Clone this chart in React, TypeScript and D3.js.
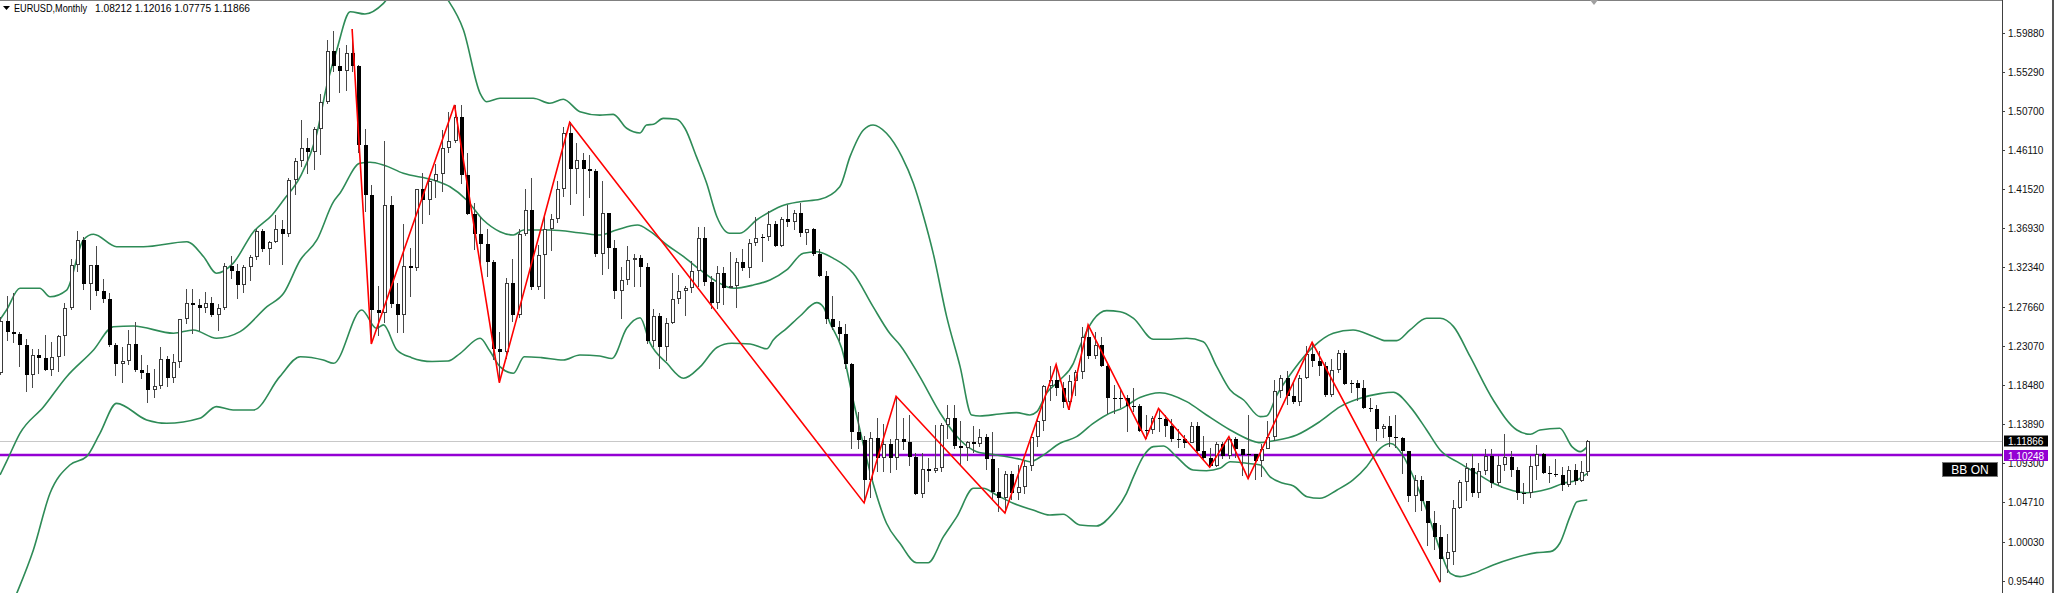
import React, { useEffect } from "react";
import * as d3 from "d3";

const W = 2055;
const H = 593;

// first visible month: 2003-12, last: 2024-08
const FIRST_YEAR = 2003;
const FIRST_MONTH = 12;

const OPEN = [
  1.1990,
  1.2597, 1.2470, 1.2450, 1.2316, 1.1970, 1.2200, 1.2170, 1.2025, 1.2175, 1.2420, 1.2755, 1.3265,
  1.3555, 1.3035, 1.3255, 1.2960, 1.2865, 1.2320, 1.2095, 1.2125, 1.2335, 1.2025, 1.1990, 1.1790,
  1.1840, 1.2155, 1.1925, 1.2115, 1.2620, 1.2810, 1.2795, 1.2760, 1.2810, 1.2675, 1.2760, 1.3250,
  1.3195, 1.3020, 1.3235, 1.3355, 1.3655, 1.3445, 1.3535, 1.3690, 1.3625, 1.4265, 1.4480, 1.4635,
  1.4590, 1.4865, 1.5185, 1.5785, 1.5600, 1.5545, 1.5755, 1.5600, 1.4675, 1.4085, 1.2725, 1.2695,
  1.3970, 1.2800, 1.2670, 1.3245, 1.3230, 1.4150, 1.4030, 1.4255, 1.4335, 1.4640, 1.4720, 1.5000,
  1.4320, 1.3865, 1.3630, 1.3510, 1.3295, 1.2270, 1.2235, 1.3045, 1.2675, 1.3630, 1.3905, 1.3000,
  1.3380, 1.3690, 1.3800, 1.4160, 1.4810, 1.4395, 1.4500, 1.4395, 1.4370, 1.3390, 1.3870, 1.3460,
  1.2960, 1.3080, 1.3325, 1.3340, 1.3235, 1.2365, 1.2665, 1.2300, 1.2575, 1.2860, 1.2960, 1.2990,
  1.3190, 1.3580, 1.3055, 1.2815, 1.3170, 1.2995, 1.3010, 1.3300, 1.3220, 1.3525, 1.3580, 1.3590,
  1.3745, 1.3485, 1.3805, 1.3770, 1.3870, 1.3635, 1.3690, 1.3390, 1.3130, 1.2630, 1.2525, 1.2450,
  1.2100, 1.1290, 1.1195, 1.0730, 1.1220, 1.0990, 1.1150, 1.0985, 1.1210, 1.1175, 1.1005, 1.0565,
  1.0860, 1.0830, 1.0870, 1.1380, 1.1455, 1.1130, 1.1105, 1.1175, 1.1155, 1.1240, 1.0980, 1.0590,
  1.0520, 1.0800, 1.0575, 1.0650, 1.0895, 1.1240, 1.1425, 1.1840, 1.1905, 1.1815, 1.1645, 1.1900,
  1.2005, 1.2415, 1.2195, 1.2320, 1.2075, 1.1690, 1.1685, 1.1690, 1.1605, 1.1605, 1.1310, 1.1315,
  1.1465, 1.1445, 1.1370, 1.1215, 1.1215, 1.1170, 1.1370, 1.1075, 1.0985, 1.0900, 1.1150, 1.1015,
  1.1210, 1.1090, 1.1025, 1.1030, 1.0955, 1.1100, 1.1235, 1.1780, 1.1935, 1.1720, 1.1645, 1.1925,
  1.2215, 1.2135, 1.2075, 1.1730, 1.2020, 1.2225, 1.1860, 1.1870, 1.1810, 1.1580, 1.1560, 1.1335,
  1.1370, 1.1235, 1.1220, 1.1065, 1.0545, 1.0735, 1.0480, 1.0225, 1.0055, 0.9800, 0.9885, 1.0405,
  1.0705, 1.0865, 1.0575, 1.0840, 1.1015, 1.0690, 1.0910, 1.0995, 1.0845, 1.0575, 1.0575, 1.0890,
  1.1040, 1.0815, 1.0805, 1.0790, 1.0665, 1.0850, 1.0715, 1.08212,
];

const HIGH = [
  1.2647,
  1.2898, 1.2930, 1.2475, 1.2385, 1.2276, 1.2270, 1.2437, 1.2355, 1.2435, 1.2810, 1.3330, 1.3666,
  1.3590, 1.3257, 1.3485, 1.3095, 1.2935, 1.2340, 1.2300, 1.2500, 1.2585, 1.2200, 1.2085, 1.2040,
  1.2290, 1.2190, 1.2210, 1.2625, 1.2980, 1.2975, 1.2860, 1.2940, 1.2880, 1.2805, 1.3285, 1.3365,
  1.3270, 1.3260, 1.3375, 1.3680, 1.3685, 1.3545, 1.3850, 1.3790, 1.4280, 1.4525, 1.4965, 1.4755,
  1.4890, 1.5275, 1.5905, 1.6020, 1.5820, 1.5845, 1.6038, 1.5620, 1.4865, 1.4200, 1.3010, 1.4720,
  1.4075, 1.3045, 1.3740, 1.3465, 1.4155, 1.4340, 1.4305, 1.4445, 1.4845, 1.5060, 1.5145, 1.5140,
  1.4580, 1.3990, 1.3820, 1.3690, 1.3315, 1.2470, 1.3110, 1.3335, 1.3685, 1.4160, 1.4280, 1.3500,
  1.3860, 1.3860, 1.4250, 1.4880, 1.4940, 1.4700, 1.4580, 1.4550, 1.4385, 1.4250, 1.3875, 1.3550,
  1.3235, 1.3485, 1.3385, 1.3380, 1.3285, 1.2745, 1.2695, 1.2640, 1.3170, 1.3140, 1.3010, 1.3310,
  1.3710, 1.3710, 1.3135, 1.3245, 1.3240, 1.3415, 1.3345, 1.3450, 1.3570, 1.3830, 1.3620, 1.3895,
  1.3775, 1.3825, 1.3965, 1.3905, 1.3995, 1.3675, 1.3700, 1.3445, 1.3190, 1.2890, 1.2605, 1.2570,
  1.2110, 1.1535, 1.1245, 1.1290, 1.1465, 1.1385, 1.1215, 1.1715, 1.1460, 1.1495, 1.1050, 1.1045,
  1.0985, 1.1375, 1.1400, 1.1615, 1.1615, 1.1425, 1.1185, 1.1365, 1.1330, 1.1275, 1.1300, 1.0875,
  1.0830, 1.0830, 1.0905, 1.0950, 1.1270, 1.1445, 1.1850, 1.2070, 1.2090, 1.1880, 1.1960, 1.2025,
  1.2535, 1.2555, 1.2475, 1.2415, 1.2095, 1.1850, 1.1790, 1.1735, 1.1815, 1.1625, 1.1500, 1.1485,
  1.1570, 1.1490, 1.1450, 1.1325, 1.1265, 1.1410, 1.1410, 1.1250, 1.1110, 1.1180, 1.1175, 1.1240,
  1.1240, 1.1095, 1.1495, 1.1040, 1.1150, 1.1420, 1.1910, 1.1965, 1.2010, 1.1880, 1.1965, 1.2310,
  1.2350, 1.2245, 1.2115, 1.2150, 1.2265, 1.2255, 1.1910, 1.1910, 1.1910, 1.1690, 1.1615, 1.1385,
  1.1485, 1.1495, 1.1235, 1.1075, 1.0785, 1.0775, 1.0485, 1.0370, 1.0200, 1.0095, 1.0495, 1.0735,
  1.0930, 1.1035, 1.0930, 1.1095, 1.1090, 1.1010, 1.1275, 1.1065, 1.0880, 1.0695, 1.1015, 1.1140,
  1.1045, 1.0900, 1.0980, 1.0885, 1.0895, 1.0915, 1.0950, 1.12016,
];

const LOW = [
  1.1960,
  1.2362, 1.2343, 1.2056, 1.1760, 1.1812, 1.1975, 1.2010, 1.1950, 1.2005, 1.2190, 1.2725, 1.3178,
  1.2965, 1.2730, 1.2895, 1.2810, 1.2300, 1.1955, 1.1870, 1.2080, 1.2000, 1.1915, 1.1640, 1.1690,
  1.1800, 1.1825, 1.1875, 1.2050, 1.2565, 1.2450, 1.2480, 1.2695, 1.2645, 1.2480, 1.2725, 1.3100,
  1.2865, 1.2930, 1.3070, 1.3320, 1.3410, 1.3260, 1.3525, 1.3260, 1.3590, 1.4085, 1.4415, 1.4335,
  1.4380, 1.4555, 1.5155, 1.5530, 1.5285, 1.5305, 1.5530, 1.4580, 1.3880, 1.2330, 1.2425, 1.2580,
  1.2750, 1.2455, 1.2455, 1.2885, 1.3185, 1.3745, 1.3845, 1.4045, 1.4125, 1.4580, 1.4695, 1.4215,
  1.3850, 1.3435, 1.3265, 1.3115, 1.2140, 1.1875, 1.2150, 1.2590, 1.2640, 1.3600, 1.2970, 1.2970,
  1.2860, 1.3430, 1.3750, 1.4065, 1.3970, 1.4100, 1.3840, 1.4050, 1.3360, 1.3145, 1.3210, 1.2855,
  1.2625, 1.3030, 1.3000, 1.3000, 1.2335, 1.2290, 1.2040, 1.2130, 1.2560, 1.2800, 1.2660, 1.2925,
  1.3005, 1.3015, 1.2745, 1.2745, 1.2795, 1.2990, 1.2755, 1.3185, 1.3105, 1.3480, 1.3295, 1.3545,
  1.3475, 1.3475, 1.3705, 1.3675, 1.3585, 1.3500, 1.3365, 1.3115, 1.2570, 1.2500, 1.2360, 1.2035,
  1.1100, 1.1100, 1.0460, 1.0520, 1.0820, 1.0820, 1.0810, 1.0850, 1.1085, 1.0895, 1.0555, 1.0520,
  1.0710, 1.0810, 1.0820, 1.1215, 1.1095, 1.0910, 1.0950, 1.1045, 1.1120, 1.0850, 1.0505, 1.0350,
  1.0340, 1.0495, 1.0495, 1.0570, 1.0840, 1.1120, 1.1310, 1.1660, 1.1720, 1.1575, 1.1555, 1.1715,
  1.1915, 1.2155, 1.2155, 1.2055, 1.1510, 1.1510, 1.1575, 1.1300, 1.1525, 1.1300, 1.1215, 1.1270,
  1.1290, 1.1235, 1.1175, 1.1110, 1.1105, 1.1160, 1.1025, 1.0965, 1.0880, 1.0880, 1.0980, 1.0980,
  1.0990, 1.0775, 1.0745, 1.0725, 1.0765, 1.1090, 1.1185, 1.1695, 1.1610, 1.1620, 1.1600, 1.1920,
  1.2055, 1.1950, 1.1705, 1.1705, 1.1985, 1.1845, 1.1750, 1.1665, 1.1565, 1.1525, 1.1185, 1.1220,
  1.1120, 1.1105, 1.0805, 1.0470, 1.0350, 1.0360, 0.9950, 0.9900, 0.9525, 0.9630, 0.9730, 1.0390,
  1.0480, 1.0535, 1.0515, 1.0790, 1.0635, 1.0660, 1.0835, 1.0765, 1.0490, 1.0450, 1.0515, 1.0725,
  1.0795, 1.0695, 1.0765, 1.0600, 1.0650, 1.0670, 1.0710, 1.07775,
];

const CLOSE = [
  1.2597,
  1.2470, 1.2450, 1.2316, 1.1970, 1.2200, 1.2170, 1.2025, 1.2175, 1.2420, 1.2755, 1.3265, 1.3555,
  1.3035, 1.3255, 1.2960, 1.2865, 1.2320, 1.2095, 1.2125, 1.2335, 1.2025, 1.1990, 1.1790, 1.1840,
  1.2155, 1.1925, 1.2115, 1.2620, 1.2810, 1.2795, 1.2760, 1.2810, 1.2675, 1.2760, 1.3250, 1.3195,
  1.3020, 1.3235, 1.3355, 1.3655, 1.3445, 1.3535, 1.3690, 1.3625, 1.4265, 1.4480, 1.4635, 1.4590,
  1.4865, 1.5185, 1.5785, 1.5600, 1.5545, 1.5755, 1.5600, 1.4675, 1.4085, 1.2725, 1.2695, 1.3970,
  1.2800, 1.2670, 1.3245, 1.3230, 1.4150, 1.4030, 1.4255, 1.4335, 1.4640, 1.4720, 1.5000, 1.4320,
  1.3865, 1.3630, 1.3510, 1.3295, 1.2270, 1.2235, 1.3045, 1.2675, 1.3630, 1.3905, 1.3000, 1.3380,
  1.3690, 1.3800, 1.4160, 1.4810, 1.4395, 1.4500, 1.4395, 1.4370, 1.3390, 1.3870, 1.3460, 1.2960,
  1.3080, 1.3325, 1.3340, 1.3235, 1.2365, 1.2665, 1.2300, 1.2575, 1.2860, 1.2960, 1.2990, 1.3190,
  1.3580, 1.3055, 1.2815, 1.3170, 1.2995, 1.3010, 1.3300, 1.3220, 1.3525, 1.3580, 1.3590, 1.3745,
  1.3485, 1.3805, 1.3770, 1.3870, 1.3635, 1.3690, 1.3390, 1.3130, 1.2630, 1.2525, 1.2450, 1.2100,
  1.1290, 1.1195, 1.0730, 1.1220, 1.0990, 1.1150, 1.0985, 1.1210, 1.1175, 1.1005, 1.0565, 1.0860,
  1.0830, 1.0870, 1.1380, 1.1455, 1.1130, 1.1105, 1.1175, 1.1155, 1.1240, 1.0980, 1.0590, 1.0520,
  1.0800, 1.0575, 1.0650, 1.0895, 1.1240, 1.1425, 1.1840, 1.1905, 1.1815, 1.1645, 1.1900, 1.2005,
  1.2415, 1.2195, 1.2320, 1.2075, 1.1690, 1.1685, 1.1690, 1.1605, 1.1605, 1.1310, 1.1315, 1.1465,
  1.1445, 1.1370, 1.1215, 1.1215, 1.1170, 1.1370, 1.1075, 1.0985, 1.0900, 1.1150, 1.1015, 1.1210,
  1.1090, 1.1025, 1.1030, 1.0955, 1.1100, 1.1235, 1.1780, 1.1935, 1.1720, 1.1645, 1.1925, 1.2215,
  1.2135, 1.2075, 1.1730, 1.2020, 1.2225, 1.1860, 1.1870, 1.1810, 1.1580, 1.1560, 1.1335, 1.1370,
  1.1235, 1.1220, 1.1065, 1.0545, 1.0735, 1.0480, 1.0225, 1.0055, 0.9800, 0.9885, 1.0405, 1.0705,
  1.0865, 1.0575, 1.0840, 1.1015, 1.0690, 1.0910, 1.0995, 1.0845, 1.0575, 1.0575, 1.0890, 1.1040,
  1.0815, 1.0805, 1.0790, 1.0665, 1.0850, 1.0715, 1.0820, 1.11866,
];

// ZigZag vertices (month, price)
const ZIGZAG_MONTHS = [
  "2008-07", "2008-10", "2009-11", "2010-06", "2011-05", "2015-03", "2015-08", "2017-01", "2017-09",
  "2017-11", "2018-02", "2018-11", "2019-01", "2019-09", "2019-12", "2020-03", "2021-01", "2022-09",
];
const ZIGZAG_PRICES = [
  1.6038, 1.2330, 1.5145, 1.1875, 1.4940, 1.0460, 1.1715, 1.0340, 1.2090,
  1.1555, 1.2555, 1.1215, 1.1570, 1.0880, 1.1240, 1.0745, 1.2350, 0.9525,
];

// Bollinger band readings: [month position from 2003-12, price]
const BB_UPPER: [number, number][] = [
  [0, 1.262], [1, 1.2731], [3.1, 1.2986], [6.2, 1.2986], [7.8, 1.2887], [10.4, 1.2966], [13, 1.3555],
  [14.6, 1.3622], [18.2, 1.3476], [22.4, 1.3476], [29.2, 1.3535], [31.8, 1.3358], [33.8, 1.3163],
  [36.4, 1.328], [39.6, 1.3653], [42.5, 1.385], [44.3, 1.4026], [46.9, 1.43], [49.5, 1.4811],
  [51, 1.5359], [52.6, 1.5791], [54.7, 1.6242], [57, 1.6215], [59.9, 1.6341], [62.5, 1.66],
  [66, 1.67], [69.8, 1.64], [72.4, 1.6027], [75, 1.5282], [76, 1.5183], [78.1, 1.5223],
  [83.3, 1.5223], [85.9, 1.5164], [88, 1.5211], [90.6, 1.5065], [93.7, 1.5025], [95.8, 1.5034],
  [97.9, 1.487], [100, 1.4815], [101, 1.4908], [102.1, 1.4917], [103.6, 1.4987], [105.7, 1.4976],
  [107, 1.487], [108.8, 1.4536], [110.4, 1.4222], [112, 1.3829], [114, 1.3634], [115.6, 1.3634],
  [118.2, 1.379], [120.8, 1.3908], [122.1, 1.3955], [125, 1.4006], [128.1, 1.4034], [131.2, 1.4182],
  [132.8, 1.4536], [134.9, 1.485], [136.4, 1.4909], [138.5, 1.4811], [140.9, 1.4536], [142.7, 1.4222],
  [144.3, 1.3829], [145.8, 1.3398], [147.9, 1.2652], [150, 1.2064], [151.8, 1.1495], [153.1, 1.1483],
  [156.2, 1.1507], [158.8, 1.1522], [160.9, 1.1495], [162, 1.1534], [163.5, 1.175], [165.6, 1.1907],
  [167.7, 1.2103], [168.7, 1.2299], [170.8, 1.2613], [172.9, 1.2723], [175, 1.2711], [177.1, 1.2633],
  [180.2, 1.2386], [182.3, 1.2386], [185.4, 1.2398], [188, 1.2358], [190.1, 1.2064], [192.2, 1.1789],
  [194.3, 1.1671], [196.9, 1.1475], [197.9, 1.1483], [199.5, 1.173], [202.1, 1.2024], [205.2, 1.2299],
  [208.3, 1.2457], [211.4, 1.2496], [214.6, 1.242], [216.5, 1.237], [218.2, 1.237], [220.3, 1.2496],
  [222.9, 1.2633], [225, 1.2633], [227.1, 1.2535], [229.7, 1.2181], [233.3, 1.1671], [237, 1.1318],
  [239.1, 1.1268], [240.6, 1.1318], [243.7, 1.1338], [245.6, 1.1122], [246.9, 1.1063], [248, 1.1122],
];

const BB_MIDDLE: [number, number][] = [
  [0, 1.079], [1, 1.0945], [3.1, 1.1279], [6.8, 1.1592], [10.4, 1.1946], [14.6, 1.226], [17.7, 1.2534],
  [20.8, 1.2542], [27.1, 1.2457], [30.2, 1.2496], [33.8, 1.2398], [37.5, 1.2476], [41.7, 1.277],
  [44.3, 1.2927], [46.9, 1.3319], [49.5, 1.3555], [52.1, 1.4006], [53.1, 1.4105], [56.2, 1.4458],
  [57.8, 1.447], [59.9, 1.4438], [63, 1.434], [67.7, 1.4261], [70.3, 1.4182], [72.9, 1.4026],
  [75.5, 1.379], [78.1, 1.3653], [80.2, 1.3614], [81.8, 1.3672], [85.9, 1.3672], [91.1, 1.3634],
  [93.7, 1.3614], [96.3, 1.3672], [99.6, 1.3731], [101.5, 1.366], [104.2, 1.3496], [106.8, 1.3358],
  [109.4, 1.3202], [112, 1.3064], [114.6, 1.2986], [117.7, 1.3025], [120.3, 1.3084], [122.9, 1.3202],
  [125.5, 1.3398], [127.6, 1.3417], [130.2, 1.3339], [133.3, 1.3163], [136.4, 1.277], [139, 1.2457],
  [140.6, 1.232], [143.7, 1.1946], [146.9, 1.1515], [150, 1.1201], [152.6, 1.1063], [155.7, 1.1024],
  [159.4, 1.0973], [160.9, 1.0945], [163, 1.1024], [165.6, 1.1162], [168.2, 1.124], [170.8, 1.1397],
  [173.9, 1.1534], [175, 1.1562], [178.1, 1.17], [181.2, 1.1757], [185.4, 1.1652], [188.5, 1.1495],
  [192.2, 1.1318], [195.3, 1.1201], [196.9, 1.1169], [199, 1.1192], [202.6, 1.1259], [206.2, 1.1416],
  [209.4, 1.1593], [212.5, 1.1691], [215.6, 1.1746], [217.7, 1.1762], [220.3, 1.1593], [222.9, 1.1318],
  [225, 1.1083], [228.1, 1.0926], [230.7, 1.0808], [233.3, 1.0691], [236.4, 1.0604], [238.5, 1.058],
  [241.7, 1.062], [244.3, 1.0691], [246.4, 1.073], [248, 1.0808],
];

const BB_LOWER: [number, number][] = [
  [0, 0.895], [2.6, 0.9396], [5.2, 0.9906], [7.8, 1.0573], [10.9, 1.0906], [13.5, 1.1004],
  [15.6, 1.1279], [18.2, 1.1632], [22.9, 1.1436], [26, 1.1397], [31.2, 1.1456], [33.8, 1.1593],
  [36.4, 1.1554], [39.6, 1.1554], [43.7, 1.1946], [46.9, 1.2181], [50.5, 1.2142], [52.1, 1.2103],
  [56.5, 1.2731], [58.8, 1.2515], [59.9, 1.2555], [62, 1.226], [64.3, 1.217], [67.5, 1.2125],
  [70, 1.213], [71.9, 1.2221], [75, 1.2398], [76.5, 1.225], [78.1, 1.2064], [80.2, 1.1986],
  [81.9, 1.2181], [84.6, 1.217], [88, 1.2142], [90.6, 1.2201], [93.7, 1.2189], [95.6, 1.216],
  [97.9, 1.2515], [100, 1.264], [101.5, 1.235], [104.2, 1.2103], [106.8, 1.1927], [109.4, 1.2064],
  [112, 1.229], [114.3, 1.234], [117.2, 1.233], [119.8, 1.2275], [120.8, 1.2378], [122.9, 1.2515],
  [125, 1.266], [127.6, 1.2817], [128.6, 1.277], [129.7, 1.2574], [131.5, 1.228], [133.5, 1.16],
  [136.4, 1.0691], [138.5, 1.022], [140.6, 0.9985], [143.2, 0.9756], [145, 0.9756], [147.4, 1.0062],
  [149.5, 1.0298], [152.1, 1.0632], [153.6, 1.0632], [155.7, 1.0553], [158.3, 1.0455], [161.4, 1.0376],
  [164, 1.0318], [166.1, 1.0326], [168.7, 1.02], [171.3, 1.0188], [173.9, 1.0338], [176, 1.0573],
  [177.1, 1.0769], [178.6, 1.1004], [180.2, 1.1122], [181.8, 1.113], [183.8, 1.1004], [186.4, 1.0847],
  [188.5, 1.0839], [190.6, 1.0867], [192.2, 1.0945], [194.8, 1.0926], [196.9, 1.0906], [198.4, 1.0769],
  [200.5, 1.0691], [202.1, 1.0659], [204.2, 1.0533], [206.2, 1.0514], [208.9, 1.0612], [211.4, 1.073],
  [213.5, 1.0886], [215.6, 1.11], [217.3, 1.116], [219.3, 1.1004], [220.8, 1.0769], [222.9, 1.0376],
  [225, 0.9906], [226.6, 0.9631], [228.1, 0.9592], [230.2, 0.9631], [233.3, 0.9729], [236.4, 0.9808],
  [240.1, 0.9874], [242.2, 0.9886], [243.7, 0.9985], [245.3, 1.0298], [246.4, 1.0474], [248, 1.0494],
];

const AXIS_TICKS = [
  "1.59880", "1.55290", "1.50700", "1.46110", "1.41520", "1.36930", "1.32340", "1.27660",
  "1.23070", "1.18480", "1.13890", "1.09300", "1.04710", "1.00030", "0.95440",
];

const SYMBOL = "EURUSD,Monthly";
const LAST_OHLC = "1.08212 1.12016 1.07775 1.11866";
const BID_PRICE = 1.11866;
const HLINE_PRICE = 1.10248;
const BB_LABEL = "BB ON";

function monthIndex(label: string) {
  const [yy, mm] = label.split("-").map(Number);
  return (yy - FIRST_YEAR) * 12 + (mm - FIRST_MONTH);
}

export default function App() {
  useEffect(() => {
    document.body.style.margin = "0";
  }, []);

  const n = CLOSE.length;
  const plotRight = 2002;
  const x = d3.scaleLinear().domain([0, n - 1]).range([0.1, 1587.3]);
  const y = d3.scaleLinear().domain([0.9544, 1.5988]).range([580.7, 33.3]);

  const bandLine = d3
    .line<[number, number]>()
    .x((d) => x(d[0]))
    .y((d) => y(d[1]))
    .curve(d3.curveMonotoneX);

  const zz = ZIGZAG_MONTHS.map((m, k) => [monthIndex(m), ZIGZAG_PRICES[k]] as [number, number]);
  const zzLine = d3
    .line<[number, number]>()
    .x((d) => x(d[0]))
    .y((d) => y(d[1]));

  const font = "'Liberation Sans', Arial, sans-serif";

  const candles = d3.range(n).map((i) => {
    const o = OPEN[i], h = HIGH[i], l = LOW[i], c = CLOSE[i];
    const cx = Math.round(x(i));
    const bull = c >= o;
    const top = Math.round(y(Math.max(o, c)));
    const bot = Math.round(y(Math.min(o, c)));
    const bh = Math.max(bot - top, 1);
    return (
      <g key={i}>
        <line
          x1={cx + 0.5}
          x2={cx + 0.5}
          y1={y(h)}
          y2={y(l)}
          stroke="#4a4a4a"
          strokeWidth={1}
        />
        {bh <= 1 ? (
          <rect x={cx - 1} y={top} width={4} height={1} fill="#000" />
        ) : (
          <rect
            x={cx - 1 + 0.5}
            y={top + 0.5}
            width={3}
            height={bh - 1}
            fill={bull ? "#fff" : "#000"}
            stroke={bull ? "#3a3a3a" : "#000"}
            strokeWidth={1}
          />
        )}
      </g>
    );
  });

  const yBid = y(BID_PRICE);
  const yH = y(HLINE_PRICE);

  return (
    <svg
      width={W}
      height={H}
      style={{ position: "absolute", left: 0, top: 0, display: "block", background: "#fff" }}
    >
      <defs>
        <clipPath id="plot">
          <rect x={0} y={0} width={plotRight} height={H} />
        </clipPath>
      </defs>
      <rect x={0} y={0} width={W} height={H} fill="#fff" />

      <g clipPath="url(#plot)">
        {/* bid line */}
        <line x1={0} x2={plotRight} y1={Math.round(yBid) + 0.5} y2={Math.round(yBid) + 0.5} stroke="#c8c8c8" strokeWidth={1} />
        {/* horizontal purple line */}
        <line x1={0} x2={plotRight} y1={yH} y2={yH} stroke="#9400D3" strokeWidth={2.5} />

        {/* bollinger bands */}
        {[BB_UPPER, BB_MIDDLE, BB_LOWER].map((band, k) => (
          <path key={k} d={bandLine(band) || ""} fill="none" stroke="#2E8B57" strokeWidth={1.6} />
        ))}

        {/* candles */}
        <g shapeRendering="crispEdges">{candles}</g>

        {/* zigzag */}
        <path d={zzLine(zz) || ""} fill="none" stroke="#FF0000" strokeWidth={1.6} />
      </g>

      {/* frame */}
      <line x1={0} x2={plotRight} y1={0.5} y2={0.5} stroke="#808080" strokeWidth={1} />
      <line x1={plotRight + 0.5} x2={plotRight + 0.5} y1={0} y2={H} stroke="#404040" strokeWidth={1} />
      <line x1={2053} x2={2053} y1={0} y2={H} stroke="#555" strokeWidth={2} />
      <path d="M1590,0 L1598,0 L1594,5 Z" fill="#a0a0a0" />

      {/* title */}
      <path d="M3,6 L10,6 L6.5,10 Z" fill="#000" />
      <text x={14} y={11.5} fontFamily={font} fontSize={10} fill="#000" textLength={73} lengthAdjust="spacingAndGlyphs">
        {SYMBOL}
      </text>
      <text x={95} y={11.5} fontFamily={font} fontSize={10} fill="#000" textLength={155} lengthAdjust="spacingAndGlyphs">
        {LAST_OHLC}
      </text>

      {/* price axis */}
      {AXIS_TICKS.map((t) => {
        const ty = Math.round(y(+t)) + 0.5;
        return (
          <g key={t}>
            <line x1={plotRight} x2={plotRight + 3} y1={ty} y2={ty} stroke="#404040" />
            <text x={2008} y={ty + 3.5} fontFamily={font} fontSize={10} fill="#111">
              {t}
            </text>
          </g>
        );
      })}

      {/* bid label */}
      <rect x={2004} y={Math.round(yBid) - 5.5} width={44} height={11} fill="#000" />
      <text x={2008} y={Math.round(yBid) + 4} fontFamily={font} fontSize={10} fill="#fff">
        {BID_PRICE.toFixed(5)}
      </text>
      {/* hline label */}
      <rect x={2004} y={Math.round(yH) - 5} width={44} height={11} fill="#9400D3" />
      <text x={2008} y={Math.round(yH) + 4.5} fontFamily={font} fontSize={10} fill="#fff">
        {HLINE_PRICE.toFixed(5)}
      </text>

      {/* BB ON button */}
      <rect x={1942.5} y={462.5} width={55} height={14} fill="#000" stroke="#777" strokeWidth={1} />
      <text x={1970} y={473.5} textAnchor="middle" fontFamily={font} fontSize={12} fill="#fff">
        {BB_LABEL}
      </text>
    </svg>
  );
}
